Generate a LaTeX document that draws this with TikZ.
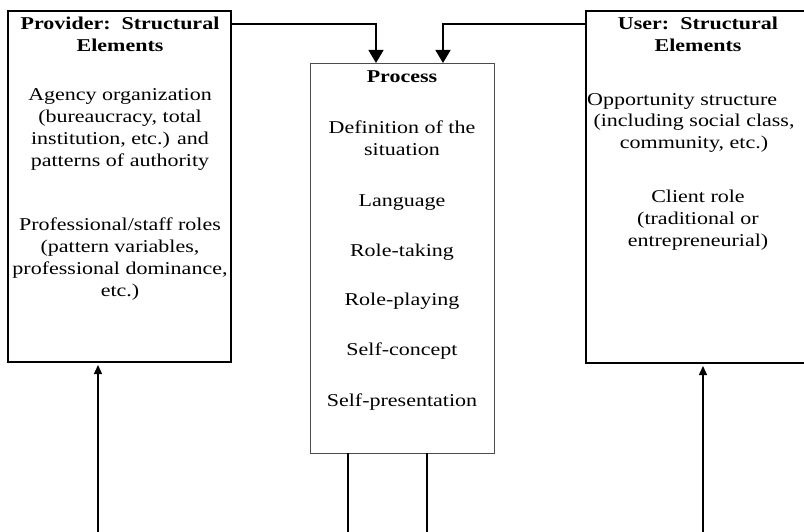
\documentclass[tikz,border=0pt]{standalone}
\usepackage{fontspec}
\setmainfont{Liberation Serif}
\usetikzlibrary{arrows.meta}
\newcommand\sqz[1]{\scalebox{1}[0.82]{\begin{tabular}{@{}c@{}}#1\end{tabular}}}
\begin{document}
\begin{tikzpicture}[x=1pt,y=-1pt,
 box/.style={draw=black, line width=1.2pt, inner sep=0, outer sep=0},
 pbox/.style={draw=black!70, line width=0.7pt, inner sep=0, outer sep=0},
 txt/.style={inner sep=0, font=\fontsize{22}{26.8}\selectfont},
 conn/.style={line width=1.4pt},
 bigtip/.style={-{Triangle[width=15pt,length=13pt]}},
 smalltip/.style={-{Triangle[width=8pt,length=9pt]}}]
\useasboundingbox (0,0) rectangle (804,532);
% boxes
\node[box, minimum width=223pt, minimum height=351pt] (prov) at (119.5,186.5) {};
\node[pbox, minimum width=184pt, minimum height=390pt] (proc) at (402,258) {};
\node[box, minimum width=230pt, minimum height=352pt] (user) at (701,187) {};
% provider texts
\node[txt] (pt) at (120,36.5) {\sqz{\bfseries Provider:\ \ Structural\\ \bfseries Elements}};
\node[txt] (p1) at (120,129) {\sqz{Agency organization\\(bureaucracy, total\\institution, etc.) and\\patterns of authority}};
\node[txt] (p2) at (120,259) {\sqz{Professional/staff roles\\(pattern variables,\\professional dominance,\\etc.)}};
% process texts
\node[txt] (ct) at (402,78) {\sqz{\bfseries Process}};
\node[txt] (c1) at (402,140) {\sqz{Definition of the\\situation}};
\node[txt] (c2) at (402,202) {\sqz{Language}};
\node[txt] (c3) at (402,252) {\sqz{Role-taking}};
\node[txt] (c4) at (402,301) {\sqz{Role-playing}};
\node[txt] (c5) at (402,351) {\sqz{Self-concept}};
\node[txt] (c6) at (402,402) {\sqz{Self-presentation}};
% user texts
\node[txt] (ut) at (698,36.5) {\sqz{\bfseries User:\ \ Structural\\ \bfseries Elements}};
\node[txt, anchor=west] (u1) at (587,101) {\sqz{Opportunity structure}};
\node[txt] (u2) at (694,133) {\sqz{(including social class,\\community, etc.)}};
\node[txt] (u3) at (698,220) {\sqz{Client role\\(traditional or\\entrepreneurial)}};
% top connectors
\draw[conn, bigtip] ([yshift=-13pt]prov.north east) -| ([xshift=-26pt]proc.north);
\draw[conn, bigtip] ([yshift=-13pt]user.north west) -| ([xshift=41pt]proc.north);
% bottom connectors
\coordinate (pb) at (98,532);
\coordinate (ub) at (703,532);
\coordinate (m1) at (348,532);
\coordinate (m2) at (427,532);
\draw[conn, smalltip, shorten >=3pt] (pb) -- (pb |- prov.south);
\draw[conn, smalltip, shorten >=3pt] (ub) -- (ub |- user.south);
\draw[conn] (proc.south -| m1) -- (m1);
\draw[conn] (proc.south -| m2) -- (m2);
\end{tikzpicture}
\end{document}
